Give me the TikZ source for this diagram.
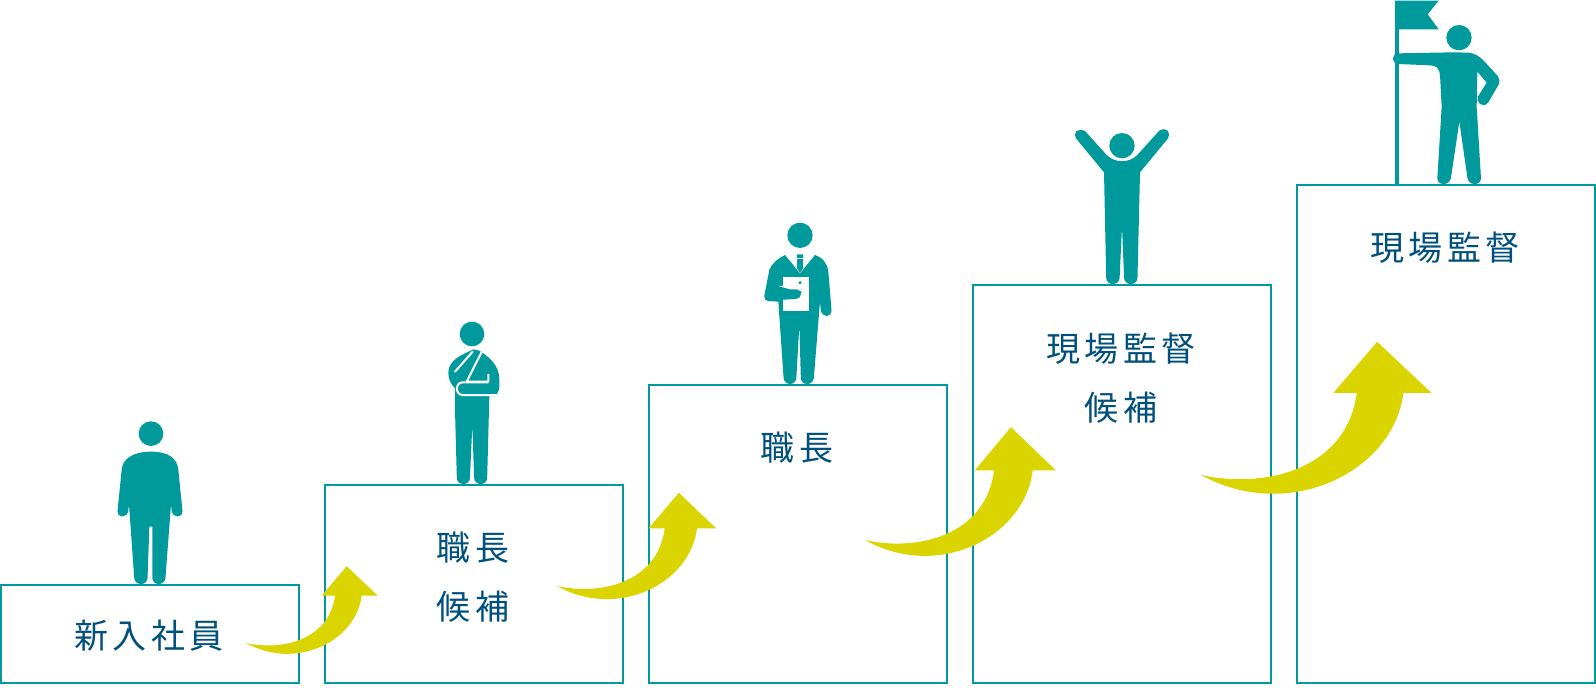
\documentclass[tikz,border=0pt]{standalone}
\usepackage{fontspec}
\newfontfamily\jpfont[LetterSpace=12]{Noto Sans CJK JP}
\definecolor{stepteal}{HTML}{009A9C}
\definecolor{riseyellow}{HTML}{DAD400}
\definecolor{labelblue}{HTML}{00507D}
\tikzset{
  stepbox/.style = {draw = stepteal, line width = 1.5pt, fill = white, anchor = north west,
    minimum width = 223.5pt, inner sep = 0pt, outer sep = 0pt},
  steplabel/.style = {text = labelblue, align = center, inner sep = 0pt,
    font = \jpfont\fontsize{25.5}{44}\selectfont},
  person/.style = {fill = stepteal, rounded corners = 3.6pt},
  rise/.style = {fill = riseyellow}
}
\begin{document}
\begin{tikzpicture}[x = 0.75pt, y = -0.75pt]
  \useasboundingbox (0, 0) rectangle (1596, 688);

  \node [stepbox, minimum height = 73.5pt] (box1) at (1, 585) {};
  \node [stepbox, minimum height = 148.5pt] (box2) at (325, 485) {};
  \node [stepbox, minimum height = 223.5pt] (box3) at (649, 385) {};
  \node [stepbox, minimum height = 298.5pt] (box4) at (973, 285) {};
  \node [stepbox, minimum height = 373.5pt] (box5) at (1297, 185) {};

  \node [steplabel] (label1) at (149, 636) {新入社員};
  \node [steplabel] (label2) at (473, 577) {職長\\候補};
  \node [steplabel] (label3) at (797, 448) {職長};
  \node [steplabel] (label4) at (1121, 378) {現場監督\\候補};
  \node [steplabel] (label5) at (1445, 248) {現場監督};

  \foreach \x/\y/\s/\t in {246/643/1/0.98, 557/586/1.21/1.19, 865/540/1.45/1.44, 1201/475/1.75/1.70} {
    \fill [rise, shift = {(\x, \y)}, xscale = \s / 3, yscale = \t / 3] (0, 0)
      .. controls (110, 25) and (250, -10) .. (267, -145) -- (227, -145)
      -- (302, -235) -- (395, -145) -- (347, -145)
      .. controls (330, -5) and (150, 85) .. (0, 0) -- cycle;
  }

  \begin{scope}[shift = {(90, 405)}, scale = 1 / 3]
    \fill [stepteal] (183, 86) circle [radius = 37];
    \fill [person] (183, 140) [sharp corners] .. controls (130, 140) and (98, 160) .. (95, 195)
      [rounded corners = 3.6pt] -- (81, 334) -- (113, 334) [sharp corners] -- (117, 298)
      [rounded corners = 4.5pt] -- (134, 537) -- (172, 537) [sharp corners] -- (178, 365) -- (187, 365)
      [rounded corners = 4.5pt] -- (187, 537) -- (225, 537) [sharp corners] -- (243, 298)
      [rounded corners = 3.6pt] -- (247, 334) -- (279, 334) [sharp corners] -- (265, 195)
      .. controls (262, 160) and (236, 140) .. (183, 140) -- cycle;
  \end{scope}

  \begin{scope}[shift = {(420, 310)}, scale = 1 / 3]
    \fill [stepteal] (156, 72) circle [radius = 37];
    \fill [person] (135, 130) [sharp corners] .. controls (105, 145) and (85, 160) .. (85, 190)
      .. controls (85, 210) and (95, 225) .. (105, 235) -- (105, 300)
      [rounded corners = 4.5pt] -- (111, 522) -- (149, 522) [sharp corners] -- (157, 345)
      [rounded corners = 4.5pt] -- (163, 522) -- (201, 522) [sharp corners] -- (208, 258)
      -- (225, 258) .. controls (236, 250) and (240, 235) .. (238, 205)
      .. controls (236, 170) and (215, 145) .. (178, 122) -- (160, 118) -- cycle;
    \draw [white, line width = 1.5pt, line cap = round] (158, 125) -- (105, 185);
    \draw [white, line width = 1.5pt, line join = round] (186, 124) -- (140, 215) -- (205, 215) -- (205, 192);
    \draw [white, line width = 1.5pt] (205, 217) -- (128, 217)
      .. controls (105, 217) and (105, 255) .. (128, 255) -- (230, 255);
  \end{scope}

  \begin{scope}[shift = {(730, 210)}, scale = 1 / 3]
    \fill [stepteal] (210, 76) circle [radius = 38];
    \fill [person] (165, 135) [sharp corners] -- (210, 190) -- (255, 135)
      .. controls (280, 145) and (292, 160) .. (295, 185)
      [rounded corners = 4.5pt] -- (306, 318) -- (274, 318) [sharp corners] -- (270, 275)
      [rounded corners = 4.5pt] -- (250, 522) -- (213, 522) [sharp corners] -- (208, 345)
      [rounded corners = 4.5pt] -- (198, 522) -- (162, 522) [sharp corners] -- (145, 275)
      [rounded corners = 3.6pt] -- (100, 272) [sharp corners] -- (118, 180)
      .. controls (125, 160) and (145, 145) .. (165, 135) -- cycle;
    \fill [stepteal] (201, 133) -- (219, 133) -- (219, 175) -- (210, 188) -- (201, 175) -- cycle;
    \draw [white, line width = 0.8pt] (199, 146) -- (221, 146);
    \fill [white] (160, 200) rectangle (238, 303);
    \fill [person] (145, 228) -- (195, 238) -- (213, 238) -- (213, 266) -- (110, 272) -- (120, 228) -- cycle;
    \fill [white] (145, 228) -- (215, 228) -- (215, 238) -- (180, 238) -- cycle;
    \fill [stepteal] (210, 218) circle [radius = 5];
    \fill [stepteal] (210, 247) circle [radius = 5];
  \end{scope}

  \begin{scope}[shift = {(1040, 115)}, scale = 1 / 3]
    \fill [stepteal] (246, 92) circle [radius = 38];
    \fill [person] (120, 40) [sharp corners] -- (135, 48) -- (200, 120)
      .. controls (225, 145) and (267, 145) .. (292, 120) -- (357, 48)
      [rounded corners = 4pt] -- (372, 36) -- (394, 58) [sharp corners] -- (300, 172)
      [rounded corners = 4.5pt] -- (292, 507) -- (253, 507) [sharp corners] -- (246, 335)
      [rounded corners = 4.5pt] -- (238, 507) -- (199, 507) [sharp corners] -- (192, 172)
      [rounded corners = 4pt] -- (98, 58) -- cycle;
  \end{scope}

  \fill [stepteal] (1395, 0.7) rectangle (1399.3, 185);
  \begin{scope}[shift = {(1340, 0)}, scale = 1 / 3]
    \fill [stepteal] (165, 2) -- (296, 2) -- (263, 43) -- (296, 88) -- (165, 88) -- cycle;
    \fill [stepteal] (357, 113) circle [radius = 38];
    \fill [person] (175, 160) [sharp corners] -- (340, 157) -- (385, 158)
      .. controls (405, 160) and (420, 170) .. (432, 183)
      [rounded corners = 4pt] -- (484, 240) -- (436, 322) -- (406, 302) [sharp corners] -- (440, 248) -- (412, 215) -- (410, 320)
      [rounded corners = 4.5pt] -- (424, 552) -- (385, 552) [sharp corners] -- (358, 365)
      [rounded corners = 4.5pt] -- (330, 552) -- (291, 552) [sharp corners] -- (305, 320) -- (300, 225)
      .. controls (298, 205) and (290, 197) .. (270, 196) -- (175, 192)
      .. controls (153, 190) and (153, 162) .. (175, 160) -- cycle;
  \end{scope}
\end{tikzpicture}
\end{document}
